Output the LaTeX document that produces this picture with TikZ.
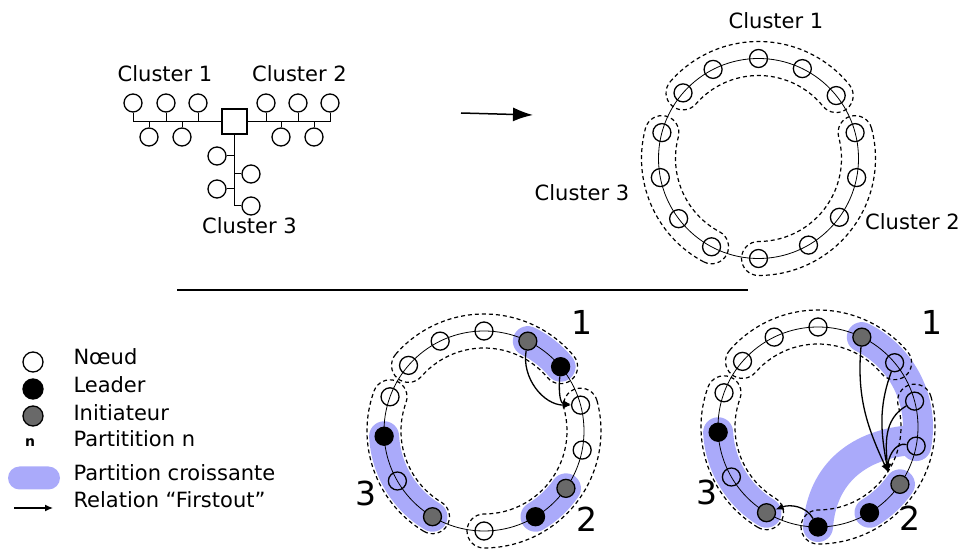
\documentclass[tikz,border=0pt]{standalone}
\usepackage{fontspec}
\setmainfont{DejaVu Sans}
\usetikzlibrary{arrows.meta}

\definecolor{bandblue}{RGB}{170,170,250}
\definecolor{gris}{RGB}{105,105,105}

% contour pointille d'un cluster sur un anneau de rayon 100
\newcommand{\grappe}[3]{%
  \draw[pointille] ([shift={(#2:117)}]#1) arc[start angle=#2,end angle=#3,radius=117]
    arc[start angle=#3,end angle=#3-180,radius=17]
    arc[start angle=#3,end angle=#2,radius=83]
    arc[start angle=#2+180,end angle=#2,radius=17] -- cycle;}

\begin{document}
\begin{tikzpicture}[x=1pt,y=1pt,
    noeud/.style={circle,draw,line width=1.3pt,minimum size=18pt,inner sep=0pt},
    leader/.style={noeud,fill=black},
    initiateur/.style={noeud,fill=gris},
    hub/.style={draw,line width=1.3pt,minimum size=25pt,inner sep=0pt},
    lien/.style={line width=1pt},
    anneau/.style={line width=0.8pt},
    pointille/.style={line width=1.2pt,dash pattern=on 4pt off 3pt},
    bande/.style={bandblue,line width=30pt,line cap=round},
    fleche/.style={line width=1.3pt,-{Latex[length=8pt,width=7pt]}},
    lab/.style={font=\fontsize{21}{24}\selectfont},
    num/.style={font=\fontsize{33}{33}\selectfont}]

    \useasboundingbox (0,0) rectangle (962,552);

    % arbre de depart
    \node[hub] (hub) at (234.5,430.5) {};
    \node[noeud] (a1) at (133,449) {};
    \node[noeud] (a2) at (166,449) {};
    \node[noeud] (a3) at (198,449) {};
    \node[noeud] (b1) at (149,415) {};
    \node[noeud] (b2) at (182,415) {};
    \node[noeud] (d1) at (266,449) {};
    \node[noeud] (d2) at (298,449) {};
    \node[noeud] (d3) at (330,449) {};
    \node[noeud] (e1) at (281,415) {};
    \node[noeud] (e2) at (314,415) {};
    \node[noeud] (c1) at (217,396) {};
    \node[noeud] (c2) at (251,378) {};
    \node[noeud] (c3) at (217,363) {};
    \node[noeud] (c4) at (251,346) {};
    \foreach \n in {a1,a2,a3,b1,b2,d1,d2,d3,e1,e2}
        \draw[lien] (\n) |- (hub);
    \foreach \n in {c1,c2,c3,c4}
        \draw[lien] (\n) -| (hub);
    \node[lab] (cl1) at (165,478) {Cluster 1};
    \node[lab] (cl2) at (299.5,478) {Cluster 2};
    \node[lab] (cl3) at (249.5,326) {Cluster 3};

    % fleche de transformation
    \coordinate (f1) at (461,439);
    \coordinate (f2) at (533,437);
    \draw[line width=1.5pt,-{Latex[length=20pt,width=14pt]}] (f1) -- (f2);

    % anneau du haut
    \coordinate (tc) at (758.5,393.5);
    \draw[anneau] (tc) circle[radius=100];
    \foreach \a [count=\i] in {90,64,39,15,-11,-36,-60,-90,-118,-143,-169,165,139,117}
        \node[noeud] (t\i) at ([shift={(\a:100)}]tc) {};
    \grappe{tc}{139}{39}
    \grappe{tc}{15}{-90}
    \grappe{tc}{242}{165}
    \node[lab] (tl1) at (776,531) {Cluster 1};
    \node[lab] (tl2) at (912.5,330) {Cluster 2};
    \node[lab] (tl3) at (582,359) {Cluster 3};

    % separation
    \coordinate (s1) at (177,262);
    \coordinate (s2) at (748,262);
    \draw[line width=1.2pt] (s1) -- (s2);

    % anneau du milieu
    \coordinate (mc) at (484,121);
    \draw[bande] ([shift={(64:100)}]mc) arc[start angle=64,end angle=40,radius=100];
    \draw[bande] ([shift={(-35:100)}]mc) arc[start angle=-35,end angle=-59,radius=100];
    \draw[bande] ([shift={(-177:100)}]mc) arc[start angle=-177,end angle=-121,radius=100];
    \draw[anneau] (mc) circle[radius=100];
    \grappe{mc}{139}{40}
    \grappe{mc}{15}{-90}
    \grappe{mc}{239}{160}
    \foreach \a/\s [count=\i] in {90/noeud,64/initiateur,40/leader,15/noeud,-11/noeud,
            -35/initiateur,-59/leader,-90/noeud,-121/initiateur,-150/noeud,-177/leader,
            160/noeud,139/noeud,116/noeud}
        \node[\s] (m\i) at ([shift={(\a:100)}]mc) {};
    \draw[fleche] (m2) to[out=-100,in=180] (m4);
    \draw[fleche] (m3) to[out=-95,in=175] (m4);
    \node[num] (mn1) at (581.5,230) {1};
    \node[num] (mn2) at (587,33) {2};
    \node[num] (mn3) at (366,59) {3};

    % anneau de droite
    \coordinate (rc) at (818,125);
    \draw[bande] ([shift={(64:100)}]rc) arc[start angle=64,end angle=-11,radius=100];
    \draw[bande] ([shift={(-35:100)}]rc) arc[start angle=-35,end angle=-59,radius=100];
    \draw[bande] ([shift={(-177:100)}]rc) arc[start angle=-177,end angle=-121,radius=100];
    \draw[bande] (912,112) .. controls (860,108) and (822,80) .. ([shift={(-90:100)}]rc);
    \draw[anneau] (rc) circle[radius=100];
    \grappe{rc}{139}{40}
    \grappe{rc}{15}{-90}
    \grappe{rc}{239}{160}
    \foreach \a/\s [count=\i] in {90/noeud,64/initiateur,40/noeud,15/noeud,-11/noeud,
            -35/initiateur,-59/leader,-90/leader,-121/initiateur,-150/noeud,-177/leader,
            160/noeud,139/noeud,116/noeud}
        \node[\s] (r\i) at ([shift={(\a:100)}]rc) {};
    \coordinate (fo) at (888,80);
    \draw[fleche] (r2) to[out=-95,in=115] (fo);
    \draw[fleche] (r3) to[out=-110,in=100] (fo);
    \draw[fleche] (r4) to[out=-150,in=95] (fo);
    \draw[fleche] (r5) to[out=170,in=90] (fo);
    \draw[fleche] (r8) to[out=120,in=20] (r9);
    \node[num] (rn1) at (932,230) {1};
    \node[num] (rn2) at (910,34) {2};
    \node[num] (rn3) at (707,60) {3};

    % legende
    \node[noeud,minimum size=20pt] (ln) at (33,190) {};
    \node[leader,minimum size=20pt] (ll) at (33,163) {};
    \node[initiateur,minimum size=20pt] (li) at (33,136) {};
    \node[font=\bfseries\fontsize{14}{14}\selectfont] (lp) at (30,109) {n};
    \node[fill=bandblue,rounded corners=11.5pt,minimum width=52pt,minimum height=23pt] (lb) at (34,74) {};
    \coordinate (lf1) at (14,44);
    \coordinate (lf2) at (53,44);
    \draw[fleche] (lf1) -- (lf2);
    \node[lab,anchor=base west] (tn) at (70,187) {Nœud};
    \node[lab,anchor=base west] (tle) at (70,159) {Leader};
    \node[lab,anchor=base west] (tin) at (70,131) {Initiateur};
    \node[lab,anchor=base west] (tpa) at (70,105) {Partitition n};
    \node[lab,anchor=base west] (tpc) at (70,71) {Partition croissante};
    \node[lab,anchor=base west] (tre) at (70,45) {Relation “Firstout”};
\end{tikzpicture}
\end{document}
